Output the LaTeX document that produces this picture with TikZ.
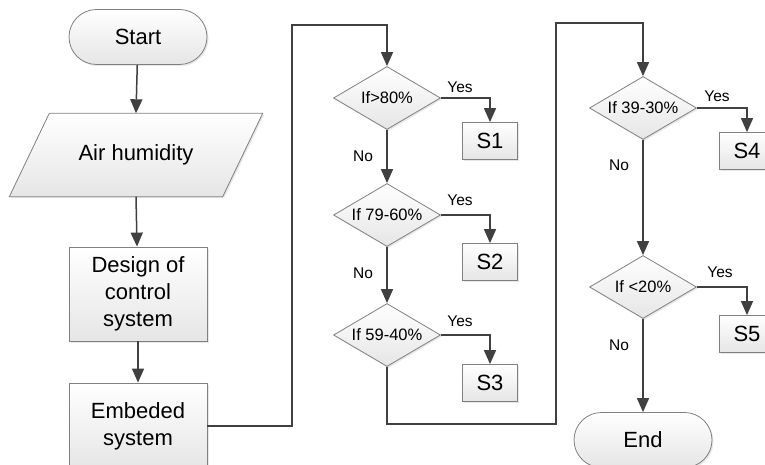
\documentclass[tikz,border=0pt]{standalone}
\usepackage{fontspec}
\setmainfont{Liberation Sans}
\usetikzlibrary{shapes.geometric,shapes.misc,arrows.meta,shadows}
\begin{document}
\begin{tikzpicture}[x=1pt,y=-1pt,
  shp/.style={draw=black!50, line width=0.8pt, top color=white, bottom color=black!10,
    drop shadow={shadow xshift=1.5pt, shadow yshift=-1.5pt, fill=black!18}, inner sep=0pt},
  bigtxt/.style={font=\fontsize{22}{27}\selectfont, align=center},
  term/.style={shp, bigtxt, rounded rectangle, minimum width=138pt, minimum height=55pt},
  proc/.style={shp, bigtxt, rectangle, minimum width=138pt},
  sbox/.style={shp, rectangle, font=\fontsize{22}{24}\selectfont, minimum width=55pt, minimum height=37pt},
  dec/.style={shp, diamond, aspect=1.7, minimum width=107pt, minimum height=63pt,
    font=\fontsize{16.5}{18}\selectfont},
  lbl/.style={font=\fontsize{15.5}{17}\selectfont, inner sep=0pt},
  conn/.style={draw=black!75, line width=1.5pt},
  arr/.style={conn, -{Triangle[length=14pt,width=12pt]}}
]
\useasboundingbox (0,0) rectangle (765,465);
\fill[white] (0,0) rectangle (765,465);

\node[term] (start) at (138,37) {Start};
\node[minimum width=213pt, minimum height=83pt, inner sep=0pt] (air) at (136,155) {};
\path[shp] ([xshift=20pt]air.north west) -- ([xshift=20pt]air.north east)
  -- ([xshift=-20pt]air.south east) -- ([xshift=-20pt]air.south west) -- cycle;
\node[bigtxt] (airtxt) at (air) {Air humidity};
\node[proc, minimum height=94pt] (design) at (138,294) {Design of\\control\\system};
\node[proc, minimum height=86pt] (emb) at (138,426) {Embeded\\system};

\node[dec] (d1) at (387,98) {If>80\%};
\node[dec] (d2) at (387,215) {If 79-60\%};
\node[dec] (d3) at (387,335) {If 59-40\%};
\node[dec] (d4) at (643,108) {If 39-30\%};
\node[dec] (d5) at (643,287) {If <20\%};

\node[sbox] (s1) at (490,141) {S1};
\node[sbox] (s2) at (490,262) {S2};
\node[sbox] (s3) at (490,383) {S3};
\node[sbox] (s4) at (747,151) {S4};
\node[sbox] (s5) at (747,334) {S5};

\node[term] (end) at (643,440) {End};

\coordinate (c1) at (292,25);
\coordinate (c2) at (556,424);
\coordinate (c3) at (556,23);

\draw[arr] (start) -- (air.north);
\draw[arr] (air.south) -- (design);
\draw[arr] (design) -- (emb);
\draw[arr] (emb.east) -| (c1) -| (d1.north);
\draw[arr] (d1.east) -| (s1.north);
\draw[arr] (d1.south) -- (d2.north);
\draw[arr] (d2.east) -| (s2.north);
\draw[arr] (d2.south) -- (d3.north);
\draw[arr] (d3.east) -| (s3.north);
\draw[arr] (d3.south) |- (c2) -- (c3) -| (d4.north);
\draw[arr] (d4.east) -| (s4.north);
\draw[arr] (d4.south) -- (d5.north);
\draw[arr] (d5.east) -| (s5.north);
\draw[arr] (d5.south) -- (end.north);

\node[lbl] (y1) at (460,87) {Yes};
\node[lbl] (y2) at (460,200) {Yes};
\node[lbl] (y3) at (460,321) {Yes};
\node[lbl] (y4) at (717,96) {Yes};
\node[lbl] (y5) at (720,272) {Yes};
\node[lbl] (n1) at (363,156) {No};
\node[lbl] (n2) at (363,273) {No};
\node[lbl] (n4) at (619,165) {No};
\node[lbl] (n5) at (619,345) {No};
\end{tikzpicture}
\end{document}
